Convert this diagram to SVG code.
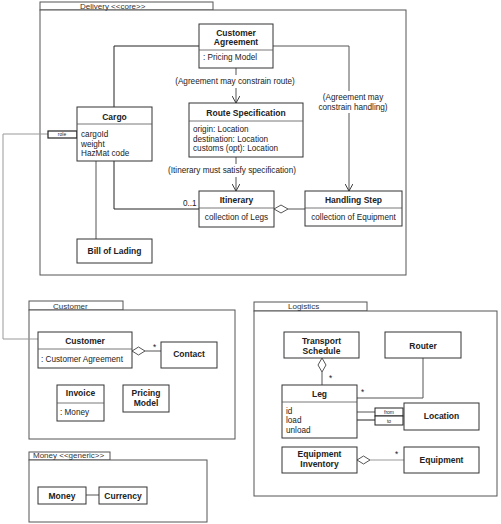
<svg xmlns="http://www.w3.org/2000/svg" width="501" height="524" viewBox="0 0 501 524">
<defs>
<style>
.pkg{fill:#fff;stroke:#555;stroke-width:1}
.box{fill:#fff;stroke:#333;stroke-width:1}
.sep{stroke:#555;stroke-width:0.8}
.ln{fill:none;stroke:#555;stroke-width:1}
.lt{fill:none;stroke:#999;stroke-width:1}
.dk{fill:none;stroke:#222;stroke-width:1}
text{font-family:"Liberation Sans",Arial,sans-serif;fill:#222}
.t{font-size:8.5px;font-weight:bold;text-anchor:middle}
.a{font-size:8.2px}
.c{font-size:8.2px;text-anchor:middle}
.p{font-size:8px;fill:#333}
.q{font-size:5px;text-anchor:middle}
.dia{fill:#fff;stroke:#555;stroke-width:1}
</style>
<marker id="arr" viewBox="0 0 10 10" refX="9" refY="5" markerWidth="8" markerHeight="8" orient="auto" markerUnits="userSpaceOnUse">
<path d="M0,0 L9,5 L0,10" fill="none" stroke="#333" stroke-width="1.2"/>
</marker>
</defs>
<rect width="501" height="524" fill="#fff"/>

<g id="pkg-delivery">
<rect class="pkg" x="40" y="2" width="173" height="8"/>
<rect class="pkg" x="40" y="10" width="366" height="265"/>
<text class="p" x="80" y="9">Delivery &lt;&lt;core&gt;&gt;</text>
</g>
<g id="pkg-customer">
<rect class="pkg" x="29" y="301" width="94" height="9"/>
<rect class="pkg" x="29" y="310" width="206" height="129"/>
<text class="p" x="53" y="309">Customer</text>
</g>
<g id="pkg-logistics">
<rect class="pkg" x="254" y="302" width="113" height="9"/>
<rect class="pkg" x="254" y="311" width="243" height="185"/>
<text class="p" x="288" y="309">Logistics</text>
</g>
<g id="pkg-money">
<rect class="pkg" x="29" y="452" width="81" height="8"/>
<rect class="pkg" x="29" y="460" width="178" height="62"/>
<text class="p" x="33" y="458">Money &lt;&lt;generic&gt;&gt;</text>
</g>

<g id="connectors">
<polyline class="dk" points="199,46 114,46 114,107"/>
<line class="ln" x1="236" y1="68" x2="236" y2="75"/>
<line class="ln" x1="236" y1="88" x2="236" y2="103" marker-end="url(#arr)"/>
<text class="c" x="235" y="84">(Agreement may constrain route)</text>
<line class="ln" x1="236" y1="157" x2="236" y2="164"/>
<line class="ln" x1="236" y1="177" x2="236" y2="191" marker-end="url(#arr)"/>
<text class="c" x="232" y="173">(Itinerary must satisfy specification)</text>
<polyline class="ln" points="273,46 349,46 349,91"/>
<line class="ln" x1="349" y1="113" x2="349" y2="191" marker-end="url(#arr)"/>
<text class="c" x="353" y="100">(Agreement may</text>
<text class="c" x="353" y="110">constrain handling)</text>
<polyline class="dk" points="114,161 114,209 199,209"/>
<text class="a" x="183" y="206">0..1</text>
<line class="ln" x1="96" y1="161" x2="96" y2="239"/>
<line class="ln" x1="288" y1="209" x2="305" y2="209"/>
<polygon class="dia" points="274,209 281,205 288,209 281,213"/>
<polyline class="lt" points="48,134 3,134 3,339 38,339"/>
<rect x="48" y="131" width="29" height="7" fill="#fff" stroke="#222" stroke-width="1.2"/>
<text class="q" x="62" y="136">role</text>
<line class="ln" x1="145" y1="351" x2="161" y2="351"/>
<polygon class="dia" points="132,351 138.5,347 145,351 138.5,355"/>
<text class="a" x="153" y="350">*</text>
<line class="ln" x1="322" y1="372" x2="322" y2="385"/>
<polygon class="dia" points="322,358 326,365 322,372 318,365"/>
<text class="a" x="329" y="381">*</text>
<polyline class="ln" points="423,358 423,398 357,398"/>
<text class="a" x="361" y="395">*</text>
<line class="ln" x1="357" y1="412" x2="375" y2="412"/>
<line class="dk" x1="357" y1="420" x2="375" y2="420"/>
<rect x="375" y="408" width="28" height="8" fill="#fff" stroke="#222" stroke-width="1"/>
<rect x="375" y="416" width="28" height="9" fill="#fff" stroke="#222" stroke-width="1"/>
<text class="q" x="389" y="414">from</text>
<text class="q" x="389" y="422.5">to</text>
<line class="lt" x1="370" y1="460" x2="404" y2="460"/>
<polygon class="dia" points="357,460 363.5,456 370,460 363.5,464"/>
<text class="a" x="395" y="457">*</text>
<line class="ln" x1="86" y1="495" x2="99" y2="495"/>
</g>

<g id="customer-agreement">
<rect class="box" x="199" y="24" width="74" height="44"/>
<line class="sep" x1="199" y1="50" x2="273" y2="50"/>
<text class="t" x="236" y="36">Customer</text>
<text class="t" x="236" y="45">Agreement</text>
<text class="a" x="203" y="60">: Pricing Model</text>
</g>
<g id="route-specification">
<rect class="box" x="189" y="103" width="114" height="54"/>
<line class="sep" x1="189" y1="121" x2="303" y2="121"/>
<text class="t" x="246" y="116">Route Specification</text>
<text class="a" x="193" y="132">origin: Location</text>
<text class="a" x="193" y="142">destination: Location</text>
<text class="a" x="193" y="151">customs (opt): Location</text>
</g>
<g id="cargo">
<rect class="box" x="77" y="107" width="75" height="54"/>
<line class="sep" x1="77" y1="124" x2="152" y2="124"/>
<text class="t" x="114.5" y="120">Cargo</text>
<text class="a" x="81" y="137">cargoId</text>
<text class="a" x="81" y="146.5">weight</text>
<text class="a" x="81" y="156">HazMat code</text>
</g>
<g id="itinerary">
<rect class="box" x="199" y="191" width="75" height="36"/>
<line class="sep" x1="199" y1="208" x2="274" y2="208"/>
<text class="t" x="236.5" y="203">Itinerary</text>
<text class="c" x="236.5" y="220">collection of Legs</text>
</g>
<g id="handling-step">
<rect class="box" x="305" y="191" width="97" height="35"/>
<line class="sep" x1="305" y1="208" x2="402" y2="208"/>
<text class="t" x="353.5" y="203">Handling Step</text>
<text class="c" x="353.5" y="220">collection of Equipment</text>
</g>
<g id="bill-of-lading">
<rect class="box" x="77" y="239" width="75" height="24"/>
<text class="t" x="114.5" y="254">Bill of Lading</text>
</g>
<g id="customer">
<rect class="box" x="38" y="332" width="94" height="36"/>
<line class="sep" x1="38" y1="349" x2="132" y2="349"/>
<text class="t" x="85" y="344">Customer</text>
<text class="a" x="41" y="362">: Customer Agreement</text>
</g>
<g id="contact">
<rect class="box" x="161" y="342" width="56" height="26"/>
<text class="t" x="189" y="357">Contact</text>
</g>
<g id="invoice">
<rect class="box" x="57" y="385" width="47" height="36"/>
<line class="sep" x1="57" y1="403" x2="104" y2="403"/>
<text class="t" x="80.5" y="396">Invoice</text>
<text class="a" x="60" y="415">: Money</text>
</g>
<g id="pricing-model">
<rect class="box" x="123" y="385" width="46" height="27"/>
<text class="t" x="146" y="396">Pricing</text>
<text class="t" x="146" y="406">Model</text>
</g>
<g id="transport-schedule">
<rect class="box" x="284" y="332" width="75" height="26"/>
<text class="t" x="321.5" y="344">Transport</text>
<text class="t" x="321.5" y="354">Schedule</text>
</g>
<g id="router">
<rect class="box" x="385" y="332" width="76" height="26"/>
<text class="t" x="423" y="349">Router</text>
</g>
<g id="leg">
<rect class="box" x="282" y="385" width="75" height="53"/>
<line class="sep" x1="282" y1="402" x2="357" y2="402"/>
<text class="t" x="319.5" y="397">Leg</text>
<text class="a" x="286" y="414">id</text>
<text class="a" x="286" y="423">load</text>
<text class="a" x="286" y="433">unload</text>
</g>
<g id="location">
<rect class="box" x="404" y="403" width="75" height="27"/>
<text class="t" x="441.5" y="419">Location</text>
</g>
<g id="equipment-inventory">
<rect class="box" x="282" y="447" width="75" height="26"/>
<text class="t" x="319.5" y="457">Equipment</text>
<text class="t" x="319.5" y="467">Inventory</text>
</g>
<g id="equipment">
<rect class="box" x="404" y="447" width="75" height="26"/>
<text class="t" x="441.5" y="463">Equipment</text>
</g>
<g id="money">
<rect class="box" x="38" y="487" width="48" height="17"/>
<text class="t" x="62" y="498.5">Money</text>
</g>
<g id="currency">
<rect class="box" x="99" y="487" width="48" height="17"/>
<text class="t" x="123" y="498.5">Currency</text>
</g>
</svg>
